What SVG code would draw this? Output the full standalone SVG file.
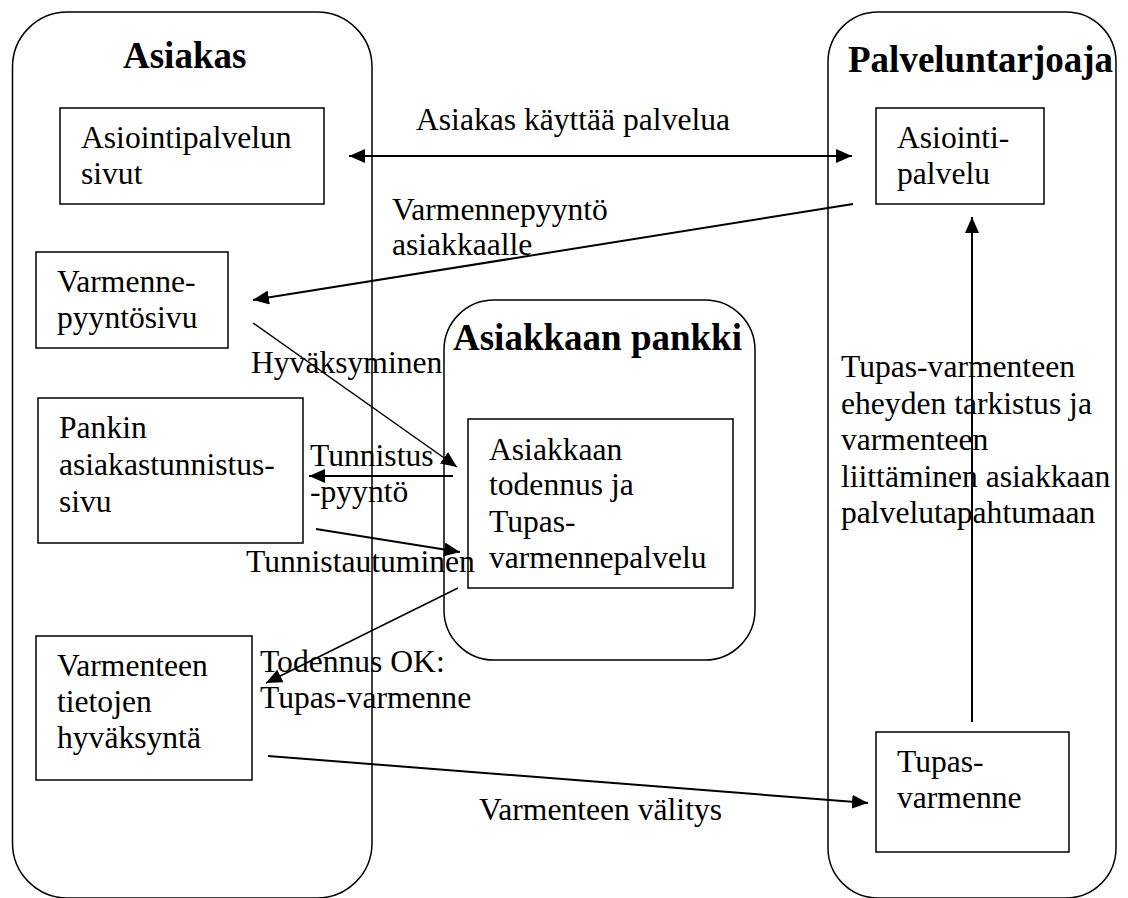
<svg xmlns="http://www.w3.org/2000/svg" width="1128" height="898" viewBox="0 0 1128 898">
<style>
.cont{fill:none;stroke:#000;stroke-width:1.5}
.box{fill:#fff;stroke:#000;stroke-width:1.5}
.t{font-family:"Liberation Serif","Times New Roman",serif;font-size:31.6px;fill:#000}
.h{font-family:"Liberation Serif","Times New Roman",serif;font-size:37px;font-weight:bold;fill:#000}
.c{stroke:#000;stroke-width:1.5;fill:none}
.c2{stroke:#000;stroke-width:2;fill:none}
</style>
<defs>
<marker id="ah" markerUnits="userSpaceOnUse" markerWidth="16" markerHeight="14" refX="16" refY="7" orient="auto-start-reverse">
<path d="M0,0 L16,7 L0,14 z" fill="#000"/>
</marker>
</defs>
<rect width="1128" height="898" fill="#fff"/>
<g id="asiakas">
<rect class="cont" x="12.5" y="12" width="359.5" height="886" rx="55" ry="55"/>
<text class="h" x="123" y="68">Asiakas</text>
</g>
<g id="palveluntarjoaja">
<rect class="cont" x="828" y="12" width="288" height="886" rx="50" ry="50"/>
<text class="h" x="848" y="72">Palveluntarjoaja</text>
</g>
<g id="pankki">
<rect class="cont" x="444" y="300" width="311" height="360" rx="50" ry="50"/>
<text class="h" x="453" y="350">Asiakkaan pankki</text>
</g>
<g id="asiointipalvelun-sivut">
<rect class="box" x="60" y="108" width="264" height="96"/>
<text class="t" x="81" y="148">Asiointipalvelun</text>
<text class="t" x="81" y="184">sivut</text>
</g>
<g id="varmennepyyntosivu">
<rect class="box" x="36" y="252" width="192" height="96"/>
<text class="t" x="57" y="292">Varmenne-</text>
<text class="t" x="57" y="328">pyyntösivu</text>
</g>
<g id="pankin-tunnistussivu">
<rect class="box" x="38" y="398" width="265" height="145"/>
<text class="t" x="59" y="438">Pankin</text>
<text class="t" x="59" y="475">asiakastunnistus-</text>
<text class="t" x="59" y="512">sivu</text>
</g>
<g id="varmenteen-hyvaksynta">
<rect class="box" x="36" y="636" width="216" height="144"/>
<text class="t" x="57" y="676">Varmenteen</text>
<text class="t" x="57" y="712">tietojen</text>
<text class="t" x="57" y="748">hyväksyntä</text>
</g>
<g id="todennus">
<rect class="box" x="468" y="419" width="265" height="169"/>
<text class="t" x="489" y="460">Asiakkaan</text>
<text class="t" x="489" y="495">todennus ja</text>
<text class="t" x="489" y="532">Tupas-</text>
<text class="t" x="489" y="568">varmennepalvelu</text>
</g>
<g id="asiointipalvelu">
<rect class="box" x="876" y="108" width="168" height="96"/>
<text class="t" x="897" y="148">Asiointi-</text>
<text class="t" x="897" y="184">palvelu</text>
</g>
<g id="tupas-varmenne">
<rect class="box" x="876" y="732" width="193" height="120"/>
<text class="t" x="897" y="772">Tupas-</text>
<text class="t" x="897" y="808">varmenne</text>
</g>
<g id="connectors">
<line class="c2" x1="349" y1="156" x2="852" y2="156" marker-start="url(#ah)" marker-end="url(#ah)"/>
<line class="c2" x1="853" y1="204" x2="253" y2="300" marker-end="url(#ah)"/>
<line class="c" x1="253" y1="323" x2="457" y2="467" marker-end="url(#ah)"/>
<line class="c2" x1="453" y1="476" x2="309" y2="476" marker-end="url(#ah)"/>
<line class="c2" x1="316" y1="529" x2="460" y2="552" marker-end="url(#ah)"/>
<line class="c" x1="458" y1="588" x2="266" y2="683" marker-end="url(#ah)"/>
<line class="c2" x1="268" y1="756" x2="868" y2="803" marker-end="url(#ah)"/>
<line class="c2" x1="972" y1="722" x2="972" y2="217" marker-end="url(#ah)"/>
<text class="t" x="416" y="130">Asiakas käyttää palvelua</text>
<text class="t" x="392" y="220">Varmennepyyntö</text>
<text class="t" x="392" y="255">asiakkaalle</text>
<text class="t" x="251" y="373">Hyväksyminen</text>
<text class="t" x="310" y="466">Tunnistus</text>
<text class="t" x="310" y="502">-pyyntö</text>
<text class="t" x="246" y="572">Tunnistautuminen</text>
<text class="t" x="260" y="672">Todennus OK:</text>
<text class="t" x="260" y="708">Tupas-varmenne</text>
<text class="t" x="479" y="820">Varmenteen välitys</text>
<text class="t" x="841" y="377">Tupas-varmenteen</text>
<text class="t" x="841" y="414">eheyden tarkistus ja</text>
<text class="t" x="841" y="450">varmenteen</text>
<text class="t" x="841" y="487">liittäminen asiakkaan</text>
<text class="t" x="841" y="523">palvelutapahtumaan</text>
</g>
</svg>
